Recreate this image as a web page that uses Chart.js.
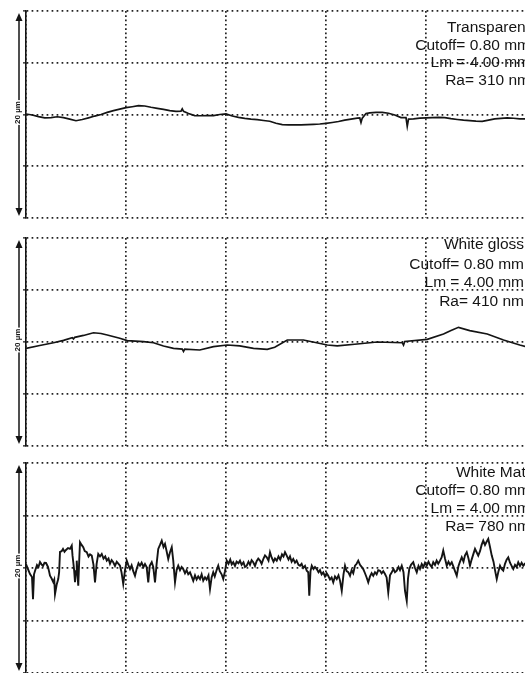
<!DOCTYPE html>
<html>
<head>
<meta charset="utf-8">
<script src="https://cdn.jsdelivr.net/npm/chart.js@4/dist/chart.umd.min.js"></script>
<style>
  html, body { margin: 0; padding: 0; background: #fff; }
  body { width: 525px; height: 673px; overflow: hidden; position: relative; }
  .panel { position: absolute; left: 0; }
</style>
</head>
<body>
<div class="panel" style="top:7px"><canvas id="p1" width="560" height="215"></canvas></div>
<div class="panel" style="top:234px"><canvas id="p2" width="560" height="216"></canvas></div>
<div class="panel" style="top:459px"><canvas id="p3" width="560" height="218"></canvas></div>
<script>
// scan length in mm (x) and profile height in µm (y)
const xTicks = [0, 0.8, 1.6, 2.4, 3.2, 4.0];
const yTicks = [-10, -5, 0, 5, 10];

const sampleNames = ["Transparent", "White gloss", "White Matt"];
const cutoffMm = [0.80, 0.80, 0.80];
const lengthMm = [4.00, 4.00, 4.00];
const raNm = [310, 410, 780];

// [x mm, height µm]
const transparentProfile = [
  [0,0.05],[0.05,-0.05],[0.1,-0.2],[0.15,-0.32],[0.2,-0.3],[0.25,-0.22],[0.3,-0.3],[0.35,-0.45],
  [0.4,-0.6],[0.45,-0.48],[0.5,-0.32],[0.55,-0.15],[0.6,0],[0.65,0.2],[0.7,0.37],[0.75,0.52],
  [0.8,0.66],[0.85,0.75],[0.9,0.85],[0.95,0.82],[1.0,0.7],[1.05,0.6],[1.1,0.5],[1.15,0.38],
  [1.2,0.3],[1.24,0.32],[1.25,0.55],[1.26,0.3],[1.3,0.1],[1.35,-0.1],[1.4,-0.12],[1.45,-0.1],
  [1.5,-0.1],[1.55,0],[1.6,0.05],[1.65,-0.15],[1.7,-0.28],[1.75,-0.38],[1.8,-0.45],[1.85,-0.5],
  [1.9,-0.58],[1.95,-0.65],[2.0,-0.85],[2.05,-0.98],[2.1,-1],[2.15,-1],[2.2,-1],[2.25,-0.97],
  [2.3,-0.95],[2.35,-0.92],[2.4,-0.85],[2.45,-0.77],[2.5,-0.68],[2.55,-0.55],[2.6,-0.45],[2.65,-0.35],
  [2.67,-0.33],[2.68,-0.78],[2.69,-0.35],[2.72,0.1],[2.75,0.15],[2.8,0.2],[2.85,0.2],[2.9,0.12],
  [2.95,-0.05],[3.0,-0.3],[3.04,-0.3],[3.05,-1.15],[3.06,-0.45],[3.1,-0.43],[3.15,-0.35],[3.2,-0.33],
  [3.25,-0.3],[3.3,-0.27],[3.35,-0.3],[3.4,-0.4],[3.45,-0.48],[3.5,-0.55],[3.55,-0.6],[3.6,-0.64],
  [3.65,-0.66],[3.7,-0.55],[3.75,-0.43],[3.8,-0.38],[3.85,-0.33],[3.9,-0.36],[3.95,-0.42],[4.0,-0.43]
];

const whiteGlossProfile = [
  [0,-0.61],[0.11,-0.34],[0.22,-0.07],[0.3,0.16],[0.37,0.42],[0.38,0.3],[0.39,0.45],[0.46,0.63],
  [0.54,0.89],[0.6,0.82],[0.65,0.67],[0.75,0.36],[0.81,0.13],[0.94,0.03],[1.02,-0.07],[1.1,-0.38],
  [1.18,-0.61],[1.25,-0.68],[1.26,-0.9],[1.27,-0.68],[1.39,-0.77],[1.5,-0.45],[1.61,-0.29],[1.71,-0.38],
  [1.82,-0.61],[1.93,-0.7],[1.99,-0.51],[2.09,0.19],[2.22,0.19],[2.41,-0.29],[2.49,-0.38],[2.65,-0.19],
  [2.81,0],[3.01,-0.07],[3.02,-0.3],[3.03,0.05],[3.21,0.26],[3.34,0.77],[3.4,1.1],[3.46,1.41],
  [3.55,1.09],[3.69,0.77],[3.82,0.19],[3.95,-0.29],[4.0,-0.45]
];

const whiteMattProfile = [
  [0,0.38],[0.016,-0.1],[0.032,-0.57],[0.048,-0.86],[0.056,-2.97],[0.064,-0.6],[0.072,-0.29],[0.088,0.29],
  [0.1,0.1],[0.112,0.57],[0.124,0.35],[0.136,0.19],[0.148,0.5],[0.16,0.48],[0.176,0.1],[0.184,-0.3],
  [0.192,-0.74],[0.205,-1.0],[0.218,-1.34],[0.226,-1.1],[0.232,-2.49],[0.245,-1.6],[0.258,-1.05],[0.265,-0.4],
  [0.272,1.53],[0.285,1.6],[0.296,1.82],[0.308,1.55],[0.32,1.72],[0.336,1.9],[0.352,1.82],[0.366,2.13],
  [0.372,1.2],[0.378,0.57],[0.385,-0.2],[0.392,-1.34],[0.4,-0.3],[0.406,0.7],[0.412,-0.6],[0.418,-1.69],
  [0.425,0.5],[0.432,2.46],[0.445,2.2],[0.458,1.98],[0.47,1.6],[0.486,1.5],[0.5,1.1],[0.512,1.3],
  [0.526,1.18],[0.54,0.3],[0.552,-1.37],[0.565,0.4],[0.578,1.34],[0.592,1.1],[0.606,1.34],[0.62,0.9],
  [0.634,1.1],[0.646,0.7],[0.66,0.9],[0.672,0.4],[0.685,0.75],[0.698,0.55],[0.712,0.2],[0.726,0.6],
  [0.74,0.4],[0.752,0.22],[0.764,-0.4],[0.778,-1.53],[0.792,-0.2],[0.806,0.7],[0.818,0.3],[0.832,-0.1],
  [0.845,0.25],[0.858,-0.3],[0.872,-0.74],[0.885,-0.1],[0.9,0.45],[0.912,0.22],[0.925,0.5],[0.94,0.1],
  [0.952,0.38],[0.965,0.1],[0.978,-1.37],[0.99,0.2],[1.006,0.55],[1.018,0.1],[1.032,-1.37],[1.045,0.4],
  [1.058,1.82],[1.072,2.2],[1.086,2.61],[1.1,2.0],[1.112,2.3],[1.125,1.6],[1.138,0.86],[1.152,1.5],
  [1.166,1.98],[1.178,0.7],[1.192,-1.37],[1.205,-0.2],[1.218,0.22],[1.232,-0.2],[1.245,0.1],[1.258,-0.1],
  [1.272,-0.5],[1.285,-0.2],[1.298,-0.6],[1.312,-0.41],[1.325,-0.8],[1.338,-1.22],[1.352,-0.7],[1.365,-1.1],
  [1.378,-0.8],[1.392,-1.05],[1.405,-0.6],[1.418,-1.2],[1.432,-0.89],[1.445,-1.1],[1.46,-0.7],[1.472,-2.01],
  [1.485,-0.9],[1.498,-0.41],[1.51,-0.8],[1.525,-0.2],[1.538,0.22],[1.55,-0.3],[1.565,-0.6],[1.578,-1.05],
  [1.592,-0.3],[1.606,0.7],[1.62,0.4],[1.634,0.8],[1.646,0.35],[1.658,0.55],[1.672,0.2],[1.685,0.6],
  [1.7,0.45],[1.712,0.7],[1.725,0.3],[1.74,0.55],[1.752,0.1],[1.766,0.22],[1.78,0.6],[1.792,0.3],
  [1.805,0.75],[1.818,0.55],[1.832,0.2],[1.845,0.65],[1.858,0.9],[1.872,0.7],[1.885,0.4],[1.9,0.9],
  [1.912,1.2],[1.926,1.02],[1.94,0.7],[1.952,1.5],[1.965,1.0],[1.98,0.6],[1.992,0.9],[2.006,0.7],
  [2.02,1.1],[2.034,0.8],[2.048,1.3],[2.06,1.1],[2.072,1.5],[2.085,1.2],[2.1,0.8],[2.112,1.1],
  [2.125,0.6],[2.138,0.86],[2.152,0.5],[2.165,0.7],[2.18,0.3],[2.192,0.22],[2.205,0.4],[2.218,0.0],
  [2.232,0.2],[2.246,-0.26],[2.258,-0.4],[2.266,-2.65],[2.276,-0.3],[2.286,0.22],[2.3,-0.1],[2.312,0.1],
  [2.326,-0.1],[2.34,-0.4],[2.352,-0.2],[2.365,-0.6],[2.378,-0.41],[2.392,-0.8],[2.405,-0.5],[2.418,-0.74],
  [2.432,-1.1],[2.445,-0.9],[2.458,-1.37],[2.472,-0.8],[2.486,-1.05],[2.5,-0.7],[2.512,-1.2],[2.526,-2.17],
  [2.54,-0.6],[2.552,0.22],[2.565,-0.3],[2.578,-0.4],[2.592,-0.74],[2.605,-0.2],[2.618,-0.5],[2.632,0.22],
  [2.645,0.4],[2.658,0.7],[2.672,0.3],[2.685,0.1],[2.698,-0.1],[2.712,-0.5],[2.725,-0.9],[2.738,-1.37],
  [2.752,-0.8],[2.765,-0.5],[2.778,-0.74],[2.792,-0.4],[2.805,-0.6],[2.818,-0.2],[2.832,-0.26],[2.845,-0.5],
  [2.858,-0.3],[2.872,-0.57],[2.885,-0.9],[2.898,-2.33],[2.912,-0.7],[2.926,-0.41],[2.94,-0.1],[2.952,-0.4],
  [2.966,-0.26],[2.98,0.1],[2.992,-0.2],[3.006,0.22],[3.02,-0.4],[3.032,-2.17],[3.046,-3.13],[3.056,-1.0],
  [3.066,-0.1],[3.08,0.3],[3.098,0.55],[3.112,0.0],[3.126,-0.41],[3.14,0.2],[3.152,-0.1],[3.166,0.38],
  [3.18,0.1],[3.192,0.5],[3.206,0.22],[3.22,0.6],[3.232,0.3],[3.245,0.1],[3.258,0.55],[3.272,0.3],
  [3.285,0.7],[3.298,0.4],[3.312,0.7],[3.325,1.0],[3.338,1.66],[3.352,0.9],[3.366,0.22],[3.38,0.6],
  [3.392,0.3],[3.406,0.55],[3.42,0.1],[3.432,-0.3],[3.446,-0.74],[3.46,0.2],[3.472,0.6],[3.486,1.02],
  [3.5,0.6],[3.512,1.2],[3.526,1.5],[3.54,0.9],[3.552,0.22],[3.565,0.8],[3.578,1.3],[3.592,1.82],
  [3.605,1.5],[3.618,1.18],[3.632,1.6],[3.645,2.2],[3.658,2.61],[3.672,2.2],[3.685,2.5],[3.698,2.78],
  [3.712,2.0],[3.726,1.18],[3.74,0.6],[3.752,-0.2],[3.766,-1.05],[3.78,-0.3],[3.792,0.22],[3.805,-0.1],
  [3.818,-0.26],[3.832,0.4],[3.845,0.8],[3.858,1.02],[3.872,0.5],[3.885,0.2],[3.898,-0.1],[3.912,0.3],
  [3.925,0.1],[3.938,0.55],[3.952,0.2],[3.965,0.5],[3.978,0.22],[3.99,0.4],[4.0,0.3]
];

const ink = "#141414";
const dotColor = "#222";

// scale arrow, "20 µm" label and the sample text block
const profileFrame = {
  id: "profileFrame",
  afterDraw(chart, args, opts) {
    const ctx = chart.ctx;
    const area = chart.chartArea;
    const yScale = chart.scales.y;
    const top = yScale.getPixelForValue(yScale.max);
    const bottom = yScale.getPixelForValue(yScale.min);
    const ax = area.left - 7;

    ctx.save();
    ctx.strokeStyle = ink;
    ctx.fillStyle = ink;
    ctx.lineWidth = 1.5;
    ctx.beginPath();
    ctx.moveTo(ax, top + 6);
    ctx.lineTo(ax, bottom - 6);
    ctx.stroke();

    ctx.beginPath();
    ctx.moveTo(ax, top + 2);
    ctx.lineTo(ax - 3.5, top + 10);
    ctx.lineTo(ax + 3.5, top + 10);
    ctx.closePath();
    ctx.fill();
    ctx.beginPath();
    ctx.moveTo(ax, bottom - 2);
    ctx.lineTo(ax - 3.5, bottom - 10);
    ctx.lineTo(ax + 3.5, bottom - 10);
    ctx.closePath();
    ctx.fill();

    const span = (yScale.max - yScale.min) + " µm";
    ctx.translate(ax - 1, (top + bottom) / 2 - 2);
    ctx.rotate(-Math.PI / 2);
    ctx.font = "bold 8px 'Liberation Sans'";
    const w = ctx.measureText(span).width;
    ctx.fillStyle = "#fff";
    ctx.fillRect(-w / 2 - 1, -4.5, w + 2, 9);
    ctx.fillStyle = ink;
    ctx.textAlign = "center";
    ctx.textBaseline = "middle";
    ctx.fillText(span, 0, 0);
    ctx.restore();

    ctx.save();
    ctx.font = "15.5px 'Liberation Sans'";
    ctx.fillStyle = ink;
    ctx.textAlign = "right";
    ctx.textBaseline = "middle";
    opts.lines.forEach(function (t, i) {
      ctx.fillText(t, opts.right, top + opts.offsets[i]);
    });
    ctx.restore();
  }
};

function drawProfile(canvasId, idx, profile, textRight, offsets, lineWidth) {
  const lines = [
    sampleNames[idx],
    "Cutoff= " + cutoffMm[idx].toFixed(2) + " mm",
    "Lm = " + lengthMm[idx].toFixed(2) + " mm",
    "Ra= " + raNm[idx] + " nm"
  ];
  return new Chart(document.getElementById(canvasId), {
    type: "line",
    data: {
      datasets: [{
        data: profile.map(p => ({ x: p[0], y: p[1] })),
        borderColor: ink,
        borderWidth: lineWidth,
        pointRadius: 0,
        tension: 0,
        fill: false
      }]
    },
    options: {
      responsive: false,
      animation: false,
      events: [],
      layout: { padding: { top: 4, bottom: 4, left: 18, right: 34 } },
      plugins: {
        legend: { display: false },
        tooltip: { enabled: false },
        profileFrame: { lines: lines, right: textRight, offsets: offsets }
      },
      scales: {
        x: {
          type: "linear",
          min: xTicks[0],
          max: xTicks[xTicks.length - 1],
          afterBuildTicks: s => { s.ticks = xTicks.map(v => ({ value: v })); },
          afterFit: s => { s.height = 0; },
          ticks: { display: false },
          grid: { color: dotColor, lineWidth: 1.7, drawTicks: false },
          border: { display: false, dash: [1.7, 2.6] }
        },
        y: {
          min: yTicks[0],
          max: yTicks[yTicks.length - 1],
          afterBuildTicks: s => { s.ticks = yTicks.map(v => ({ value: v })); },
          afterFit: s => { s.width = 8; },
          ticks: { display: false },
          grid: {
            color: dotColor, lineWidth: 1.7,
            drawTicks: true, tickLength: 3, tickColor: ink, tickWidth: 1.2, tickBorderDash: []
          },
          border: { display: true, color: ink, width: 1.6, dash: [1.7, 3.3] }
        }
      }
    },
    plugins: [profileFrame]
  });
}

drawProfile("p1", 0, transparentProfile, 530, [17, 35, 52, 70], 1.7);
drawProfile("p2", 1, whiteGlossProfile, 524, [7, 27, 45, 64], 1.7);
drawProfile("p3", 2, whiteMattProfile, 530, [10, 28, 46, 64], 1.9);
</script>
</body>
</html>
